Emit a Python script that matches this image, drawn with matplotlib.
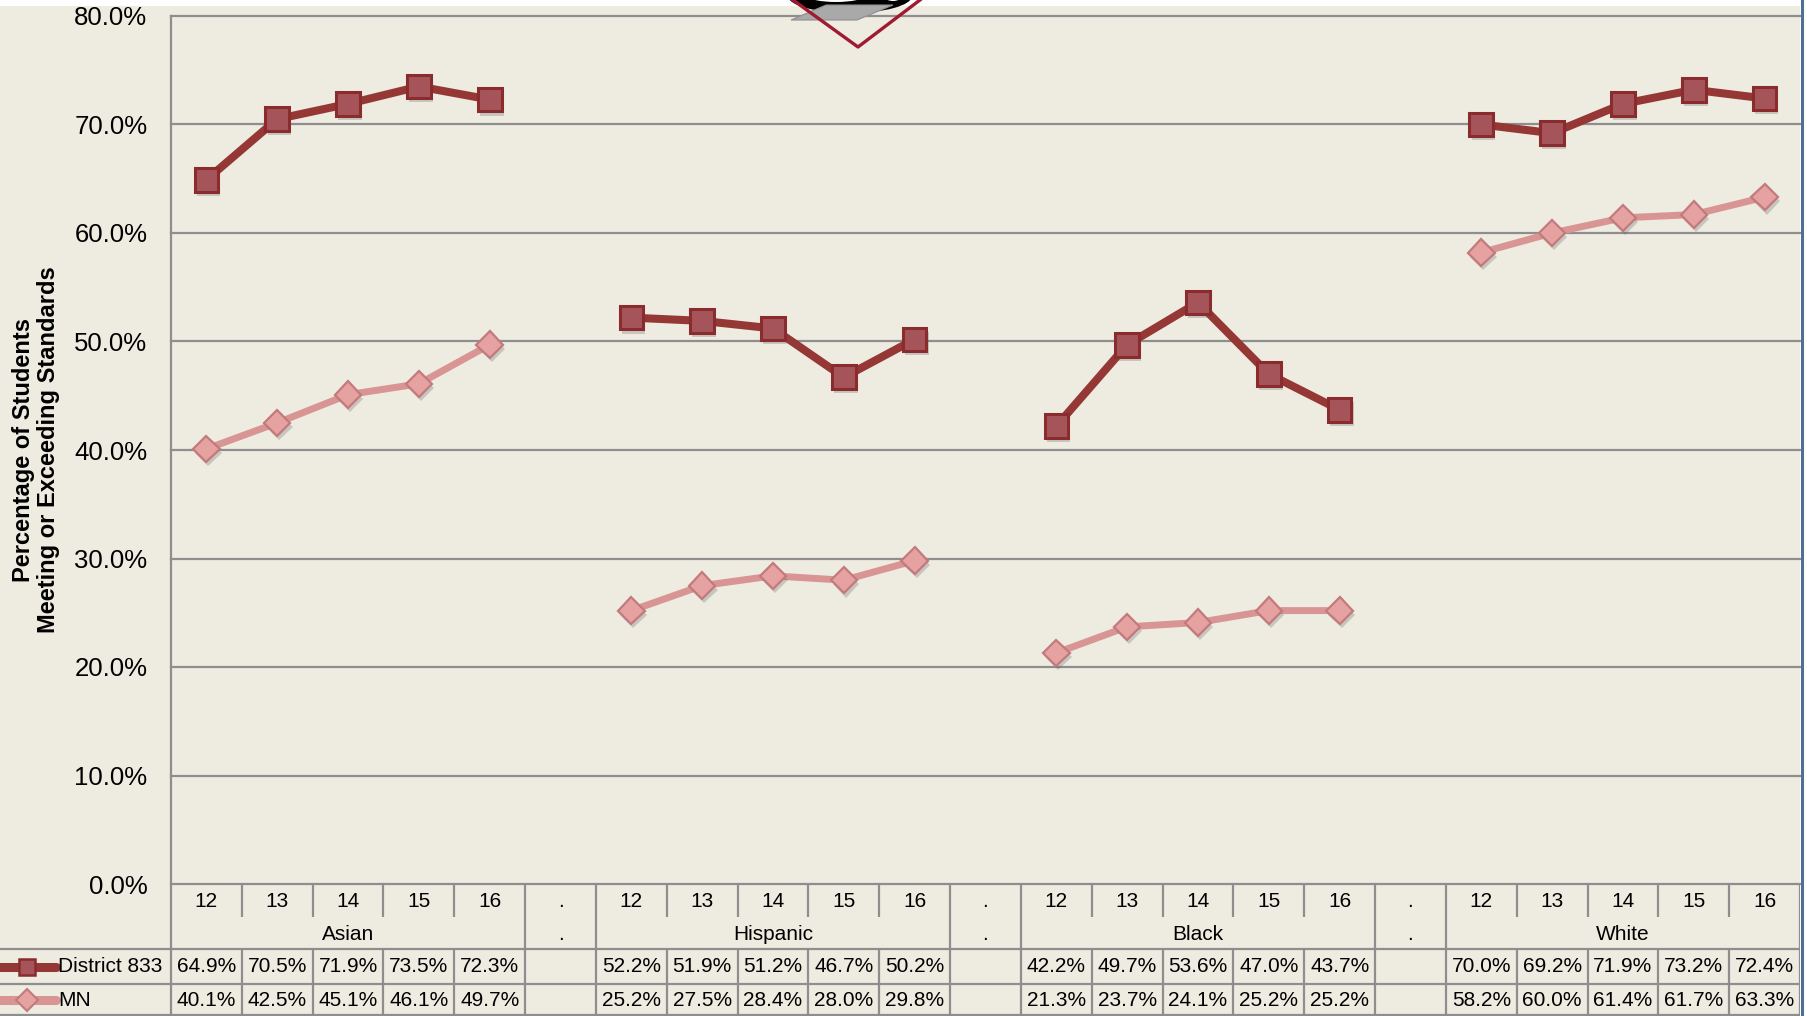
import numpy as np
import matplotlib
matplotlib.use("Agg")
import matplotlib.pyplot as plt
import matplotlib.patheffects as pe
from matplotlib.patches import Rectangle, Polygon, Ellipse
from matplotlib.lines import Line2D

plt.rcParams['font.family'] = ['Liberation Sans', 'DejaVu Sans']

# data
groups = ['Asian', 'Hispanic', 'Black', 'White']
years = ['12', '13', '14', '15', '16']
district = [[64.9, 70.5, 71.9, 73.5, 72.3],
            [52.2, 51.9, 51.2, 46.7, 50.2],
            [42.2, 49.7, 53.6, 47.0, 43.7],
            [70.0, 69.2, 71.9, 73.2, 72.4]]
mn = [[40.1, 42.5, 45.1, 46.1, 49.7],
      [25.2, 27.5, 28.4, 28.0, 29.8],
      [21.3, 23.7, 24.1, 25.2, 25.2],
      [58.2, 60.0, 61.4, 61.7, 63.3]]
yticks = [0, 10, 20, 30, 40, 50, 60, 70, 80]

W, H = 1807, 1016
bg = '#EEEBE1'
grid_c = '#8E8E8E'
d_line, d_face, d_edge = '#953735', '#A5555A', '#8A2B2D'
m_line, m_face, m_edge = '#D99594', '#E5A2A1', '#C27A7C'

fig = plt.figure(figsize=(W / 100, H / 100), dpi=100)
fig.patch.set_facecolor('white')

def fx(p):
    return p / W

def fy(p):
    return 1 - p / H

# chart background
fig.add_artist(Rectangle((0, 0), fx(1800), fy(6), transform=fig.transFigure,
                         facecolor=bg, edgecolor='none', zorder=0))

left, right, top, base = 171, 1800, 16, 884
ncol = 23
colw = (right - left) / ncol

ax = fig.add_axes([fx(left), fy(base), fx(right - left), (base - top) / H])
ax.set_facecolor('none')
ax.set_xlim(-0.5, ncol - 0.5)
ax.set_ylim(0, 80)
ax.set_yticks(yticks)
ax.set_yticklabels(['%.1f%%' % v for v in yticks], fontsize=18.5)
ax.tick_params(axis='y', length=0, pad=17)
ax.set_xticks([])
for s in ['top', 'right', 'bottom']:
    ax.spines[s].set_visible(False)
ax.spines['left'].set_color(grid_c)
ax.spines['left'].set_linewidth(1.6)
ax.yaxis.grid(True, color=grid_c, linewidth=1.6)
for gl in ax.get_ygridlines():
    gl.set_clip_on(False)
ax.set_axisbelow(True)

shadow = [pe.SimplePatchShadow(offset=(1.5, -3), shadow_rgbFace='#555555', alpha=0.25), pe.Normal()]

for g in range(len(groups)):
    xs = g * 6 + np.arange(len(years))
    ax.plot(xs, mn[g], color=m_line, lw=5, solid_capstyle='butt', zorder=3, clip_on=False)
    ax.plot(xs, mn[g], ls='none', marker='D', ms=13.5, mfc=m_face, mec=m_edge, mew=1.6,
            zorder=4, clip_on=False, path_effects=shadow)
    ax.plot(xs, district[g], color=d_line, lw=5.8, solid_capstyle='butt', zorder=5, clip_on=False)
    ax.plot(xs, district[g], ls='none', marker='s', ms=17, mfc=d_face, mec=d_edge, mew=2.2,
            zorder=6, clip_on=False, path_effects=shadow)

fig.text(fx(36), fy(450), 'Percentage of Students\nMeeting or Exceeding Standards',
         rotation=90, ha='center', va='center', multialignment='center',
         fontsize=17, fontweight='bold', linespacing=1.15)

# data table under the plot
tab_h = H - base
tab = fig.add_axes([0, 0, fx(right), tab_h / H])
tab.set_xlim(-0.5 - left / colw, ncol - 0.5)
tab.set_ylim(0, tab_h)
tab.axis('off')
tab.patch.set_visible(False)

def px(p):
    return -0.5 + (p - left) / colw

r_mn, r_d, r_grp, r_yr = (0, 32), (32, 67), (67, 99), (99, tab_h)
lk = dict(color=grid_c, lw=1.6, solid_capstyle='butt')
xl = px(0)
for yv in [0.8, r_d[0], r_d[1]]:
    tab.plot([xl, ncol - 0.5], [yv, yv], **lk)
tab.plot([-0.5, -0.5], [0, tab_h], **lk)
for b in range(ncol):
    xb = b + 0.5
    tab.plot([xb, xb], [0, r_d[1]], **lk)
    if b % 6 in (4, 5) or b == ncol - 1:
        tab.plot([xb, xb], [r_grp[0], tab_h], **lk)
    else:
        tab.plot([xb, xb], [r_yr[0], tab_h], **lk)

fs = 15
ymid = lambda r: (r[0] + r[1]) / 2
for g in range(len(groups)):
    for k in range(len(years)):
        c = g * 6 + k
        tab.text(c, ymid(r_yr) - 1, years[k], ha='center', va='center', fontsize=fs)
        tab.text(c, ymid(r_d), '%.1f%%' % district[g][k], ha='center', va='center', fontsize=fs)
        tab.text(c, ymid(r_mn), '%.1f%%' % mn[g][k], ha='center', va='center', fontsize=fs)
    tab.text(g * 6 + 2, ymid(r_grp) - 1, groups[g], ha='center', va='center', fontsize=fs)
    if g < len(groups) - 1:
        tab.text(g * 6 + 5, ymid(r_yr) - 1, '.', ha='center', va='center', fontsize=fs)
        tab.text(g * 6 + 5, ymid(r_grp) - 1, '.', ha='center', va='center', fontsize=fs)

# legend keys in the table
tab.plot([px(0), px(56)], [ymid(r_d)] * 2, color=d_line, lw=6.5, solid_capstyle='round')
tab.plot([px(27)], [ymid(r_d)], marker='s', ms=12, mfc=d_face, mec=d_edge, mew=1.8)
tab.text(px(58), ymid(r_d), 'District 833', ha='left', va='center', fontsize=fs)
tab.plot([px(0), px(56)], [ymid(r_mn)] * 2, color=m_line, lw=6.5, solid_capstyle='round')
tab.plot([px(27)], [ymid(r_mn)], marker='D', ms=11, mfc=m_face, mec=m_edge, mew=1.5)
tab.text(px(58), ymid(r_mn), 'MN', ha='left', va='center', fontsize=fs)

# logo at the top, cut by the edge
def poly(pts, **kw):
    fig.add_artist(Polygon([(fx(a), fy(b)) for a, b in pts], closed=True,
                           transform=fig.transFigure, **kw))

fig.add_artist(Ellipse((fx(850), fy(-4)), fx(124), 34 / H, transform=fig.transFigure,
                       facecolor='black', edgecolor='none', zorder=10))
fig.add_artist(Ellipse((fx(836), fy(-4)), fx(56), 12 / H, transform=fig.transFigure,
                       facecolor='white', edgecolor='none', zorder=11))
fig.add_artist(Ellipse((fx(893), fy(-3)), fx(16), 8 / H, transform=fig.transFigure,
                       facecolor='white', edgecolor='none', zorder=11))
poly([(791, 20), (857, 20), (893, 5), (826, 5)], facecolor='#A9A9A9', edgecolor='#8F8F8F',
     lw=0.8, zorder=12)
fig.add_artist(Line2D([fx(793), fx(858), fx(920)], [fy(0), fy(47), fy(0)],
                      transform=fig.transFigure, color='#9E1B32', lw=2.4, zorder=13))

# right border of the chart frame
fig.add_artist(Line2D([fx(1801.5), fx(1801.5)], [0, 1], transform=fig.transFigure,
                      color='#4F6F94', lw=2.2, zorder=14))

fig.savefig('out.png', dpi=100, facecolor=fig.get_facecolor())
